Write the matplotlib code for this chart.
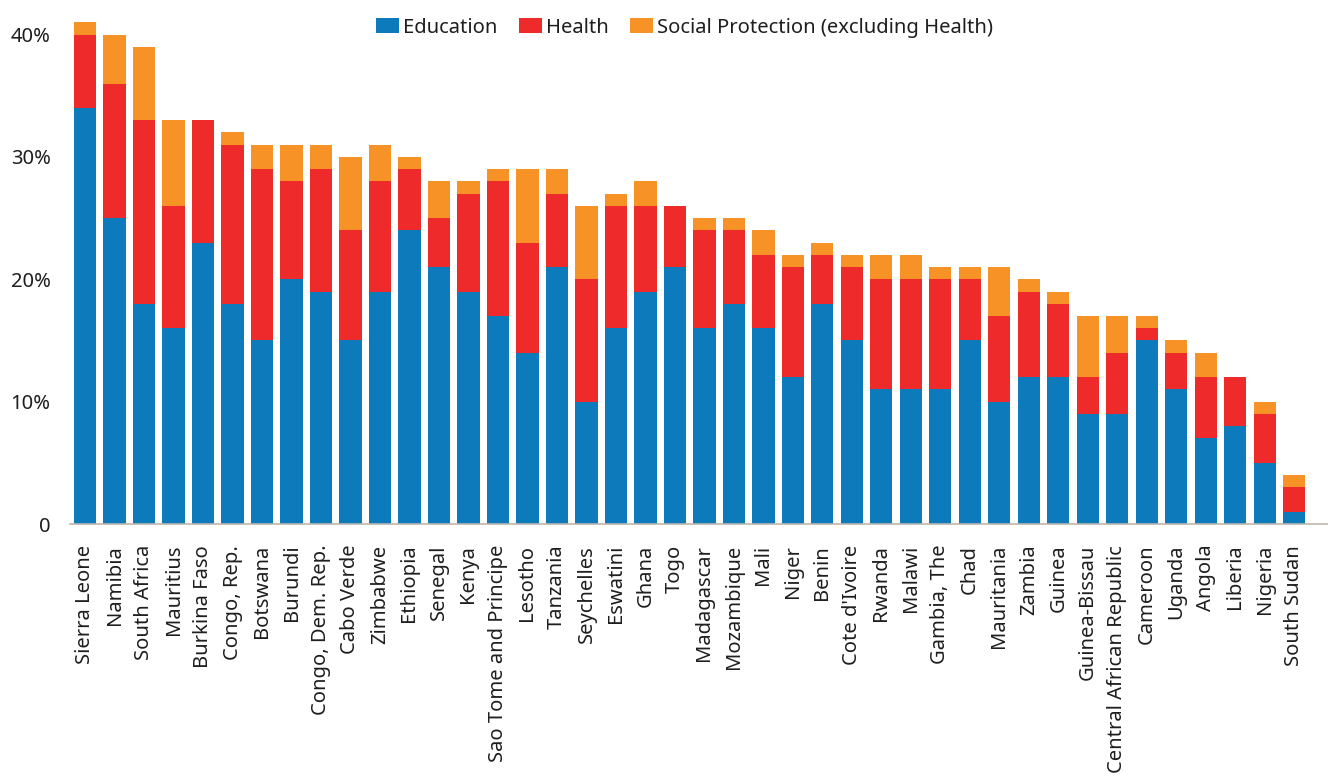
import numpy as np
import matplotlib
matplotlib.use("Agg")
import matplotlib.pyplot as plt
from matplotlib.ticker import FuncFormatter

plt.rcParams['font.family'] = ['Noto Sans', 'DejaVu Sans']

# spending shares, % of total budget
countries = ["Sierra Leone", "Namibia", "South Africa", "Mauritius", "Burkina Faso",
             "Congo, Rep.", "Botswana", "Burundi", "Congo, Dem. Rep.", "Cabo Verde",
             "Zimbabwe", "Ethiopia", "Senegal", "Kenya", "Sao Tome and Principe",
             "Lesotho", "Tanzania", "Seychelles", "Eswatini", "Ghana", "Togo",
             "Madagascar", "Mozambique", "Mali", "Niger", "Benin", "Cote d'Ivoire",
             "Rwanda", "Malawi", "Gambia, The", "Chad", "Mauritania", "Zambia",
             "Guinea", "Guinea-Bissau", "Central African Republic", "Cameroon",
             "Uganda", "Angola", "Liberia", "Nigeria", "South Sudan"]
education = [34, 25, 18, 16, 23, 18, 15, 20, 19, 15, 19, 24, 21, 19, 17, 14, 21, 10, 16, 19, 21,
             16, 18, 16, 12, 18, 15, 11, 11, 11, 15, 10, 12, 12, 9, 9, 15, 11, 7, 8, 5, 1]
health = [6, 11, 15, 10, 10, 13, 14, 8, 10, 9, 9, 5, 4, 8, 11, 9, 6, 10, 10, 7, 5,
          8, 6, 6, 9, 4, 6, 9, 9, 9, 5, 7, 7, 6, 3, 5, 1, 3, 5, 4, 4, 2]
social = [1, 4, 6, 7, 0, 1, 2, 3, 2, 6, 3, 1, 3, 1, 1, 6, 2, 6, 1, 2, 0,
          1, 1, 2, 1, 1, 1, 2, 2, 1, 1, 4, 1, 1, 5, 3, 1, 1, 2, 0, 1, 1]

BLUE = "#0d7abc"
RED = "#ee2a2a"
ORANGE = "#f79226"
TEXT = "#1e1e1e"
FS = 14.5

fig = plt.figure(figsize=(13.28, 7.76), dpi=100)
ax = fig.add_axes([0.0527, 0.3247, 0.9473, 0.6623])

x = np.arange(len(countries))
edu = np.array(education)
hl = np.array(health)
sp = np.array(social)
w = 0.75
ax.bar(x, edu, width=w, color=BLUE, label="Education")
ax.bar(x, hl, width=w, bottom=edu, color=RED, label="Health")
ax.bar(x, sp, width=w, bottom=edu + hl, color=ORANGE, label="Social Protection (excluding Health)")

ax.set_xlim(-0.51, 42.14)
ax.set_ylim(0, 42)
ax.set_yticks([0, 10, 20, 30, 40])
ax.yaxis.set_major_formatter(FuncFormatter(lambda v, p: "0" if v == 0 else f"{int(v)}%"))
ax.set_xticks(x)
ax.set_xticklabels(countries, rotation=90)
ax.tick_params(axis='both', length=0, labelsize=FS, colors=TEXT)
ax.tick_params(axis='x', pad=15)
ax.tick_params(axis='y', pad=14)

for s in ["top", "right", "left"]:
    ax.spines[s].set_visible(False)
ax.spines["bottom"].set_color("#bdb6b2")
ax.spines["bottom"].set_linewidth(1.2)

leg = ax.legend(loc="center", bbox_to_anchor=(0.4885, 0.966), ncol=3, frameon=False,
                fontsize=FS, handlelength=1.15, handleheight=0.7, handletextpad=0.2,
                columnspacing=1.05)
for t in leg.get_texts():
    t.set_color(TEXT)

fig.savefig("out.png", dpi=100)
